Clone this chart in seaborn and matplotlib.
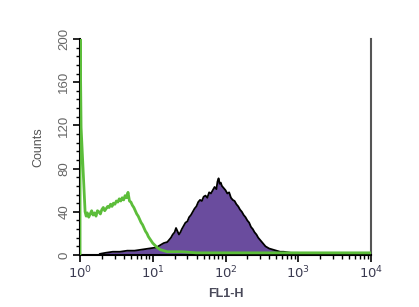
import numpy as np
import pandas as pd
import matplotlib
matplotlib.use("Agg")
import matplotlib.pyplot as plt
import seaborn as sns
from matplotlib.ticker import LogLocator, MultipleLocator

# Green (control) histogram: log10(FL1-H) channel positions and counts
green_decade = [0.0, 0.0, 0.015, 0.07, 0.085, 0.10, 0.12, 0.14, 0.16, 0.18, 0.20, 0.22, 0.24,
                0.26, 0.28, 0.30, 0.32, 0.34, 0.36, 0.38, 0.40, 0.42, 0.44, 0.46,
                0.48, 0.50, 0.52, 0.54, 0.56, 0.58, 0.60, 0.62, 0.64, 0.66, 0.68,
                0.70, 0.72, 0.74, 0.76, 0.78, 0.80, 0.82, 0.84, 0.86, 0.88, 0.90,
                0.92, 0.94, 0.96, 0.98, 1.00, 1.03, 1.06, 1.10, 1.15, 1.20, 1.30,
                1.40, 1.60, 1.80, 2.00, 2.30, 2.60, 3.00, 3.30, 3.60, 4.00]
green_counts = [0, 215, 118, 40, 36, 39, 35, 38, 41, 37, 39, 36, 41,
                40, 38, 42, 44, 41, 43, 45, 44, 47, 45, 48,
                47, 50, 49, 52, 50, 53, 51, 55, 53, 58, 50,
                49, 46, 44, 41, 38, 36, 33, 30, 28, 25, 22,
                20, 17, 15, 13, 11, 9, 7, 5, 4, 3, 3,
                3, 2, 2, 2, 2, 2, 2, 2, 2, 2]

# Purple (stained) histogram
purple_decade = [0.27, 0.35, 0.45, 0.55, 0.65, 0.75, 0.85, 0.95, 1.05, 1.10, 1.15,
                 1.20, 1.225, 1.25, 1.275, 1.30, 1.32, 1.34, 1.36, 1.38, 1.40, 1.425,
                 1.45, 1.475, 1.50, 1.525, 1.55, 1.575, 1.60, 1.625, 1.65, 1.675, 1.70,
                 1.725, 1.75, 1.775, 1.80, 1.825, 1.85, 1.875, 1.89, 1.905, 1.92, 1.935,
                 1.95, 1.975, 2.00, 2.025, 2.05, 2.075, 2.10, 2.125, 2.15, 2.175, 2.20,
                 2.225, 2.25, 2.275, 2.30, 2.325, 2.35, 2.375, 2.40, 2.425, 2.45, 2.475,
                 2.50, 2.525, 2.55, 2.575, 2.60, 2.65, 2.70, 2.75, 2.80, 2.90, 3.00,
                 3.10, 3.20, 3.40]
purple_counts = [1, 2, 3, 3, 4, 4, 5, 6, 7, 9, 11,
                 12, 14, 16, 19, 21, 25, 22, 19, 21, 24, 27,
                 30, 31, 35, 37, 40, 43, 45, 49, 51, 50, 54,
                 55, 53, 58, 57, 60, 63, 61, 68, 71, 66, 67,
                 64, 62, 60, 57, 58, 53, 51, 50, 47, 45, 42,
                 40, 37, 35, 32, 30, 26, 24, 21, 19, 16, 14,
                 12, 10, 8, 7, 6, 5, 4, 3, 3, 2, 2,
                 1, 1, 0]

y_ticks = [0, 40, 80, 120, 160, 200]
x_ticks = [1, 10, 100, 1000, 10000]
x_tick_labels = ["$10^0$", "$10^1$", "$10^2$", "$10^3$", "$10^4$"]

green_df = pd.DataFrame({"fl1": np.power(10.0, green_decade), "counts": green_counts})
purple_df = pd.DataFrame({"fl1": np.power(10.0, purple_decade), "counts": purple_counts})

sns.set_style("white")
plt.rcParams["font.family"] = ["Liberation Sans", "DejaVu Sans"]

fig = plt.figure(figsize=(4.19, 3.07), dpi=100)
ax = fig.add_axes([80 / 419, 1 - 255 / 307, (371 - 80) / 419, (255 - 39) / 307])

purple = "#6a4c9e"
green = "#5cbd3a"

ax.fill_between(purple_df["fl1"], 0, purple_df["counts"], color=purple, lw=0, zorder=2)
sns.lineplot(data=purple_df, x="fl1", y="counts", ax=ax, color="black", lw=1.3,
             estimator=None, sort=False, zorder=3)
sns.lineplot(data=green_df, x="fl1", y="counts", ax=ax, color=green, lw=2.0,
             estimator=None, sort=False, zorder=4)

ax.set_xscale("log")
ax.set_xlim(1, 10000)
ax.set_ylim(0, 200)
ax.set_xticks(x_ticks)
ax.set_xticklabels(x_tick_labels)
ax.xaxis.set_minor_locator(LogLocator(base=10, subs=np.arange(2, 10)))
ax.set_yticks(y_ticks)
ax.yaxis.set_minor_locator(MultipleLocator(8))

for lab in ax.get_yticklabels():
    lab.set_rotation(90)
    lab.set_va("center")

ax.tick_params(axis="both", which="major", direction="out", length=5, width=1.2,
               colors="black", labelcolor="#666666", labelsize=9.5, pad=2, bottom=True, left=True)
ax.tick_params(axis="both", which="minor", direction="out", length=3, width=1,
               colors="black", bottom=True, left=True)
ax.tick_params(axis="x", which="major", labelcolor="#3a3a50", labelsize=9.5)

ax.spines["top"].set_visible(False)
for s in ["left", "bottom"]:
    ax.spines[s].set_color("black")
    ax.spines[s].set_linewidth(1.5)
ax.spines["right"].set_color("#555555")
ax.spines["right"].set_linewidth(1.5)

ax.set_xlabel("FL1-H", fontsize=9, color="#4a4a5a", fontweight="bold", labelpad=5)
ax.set_ylabel("Counts", fontsize=9, color="#555555", labelpad=10)
ax.grid(False)

fig.savefig("out.png", dpi=100)
